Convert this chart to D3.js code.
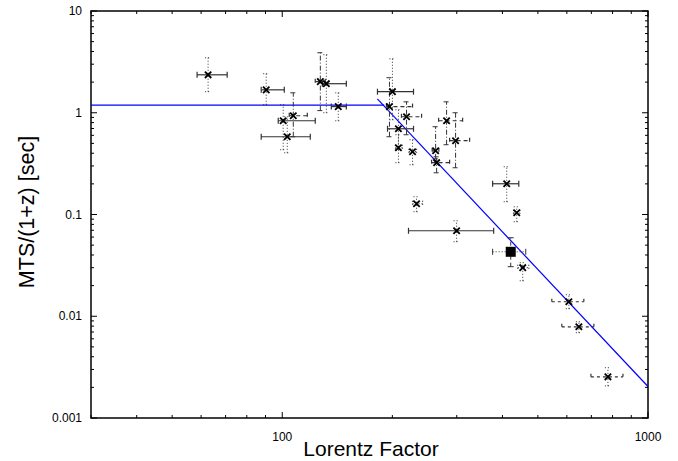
<!DOCTYPE html>
<html>
<head>
<meta charset="utf-8">
<script src="https://cdn.jsdelivr.net/npm/d3@7"></script>
<style>
  body { margin: 0; background: #fff; }
  text { font-family: "Liberation Sans", Arial, sans-serif; }
</style>
</head>
<body>
<div id="chart"></div>
<script>
// MTS vs Lorentz factor (log-log)

const margin = {top: 11, right: 30, bottom: 43, left: 91};
const width = 678 - margin.left - margin.right;
const height = 461 - margin.top - margin.bottom;

// data
const gamma    = [62.7, 90.4, 107.2, 100.6, 103.2, 127.1, 132.0, 142.3, 200.1, 196.4, 218.7, 207.8, 207.8, 227.1, 262.6, 264.3, 281.4, 297.8, 410.9, 437.6, 232.9, 299.7, 454.5, 607.6, 647.1, 777];
const gammaLo  = [58.5, 87.6, 104.5, 97.5, 87.6, 123.1, 128.7, 136.2, 182.1, 192.7, 211.8, 194.0, 204.0, 222.0, 257.0, 256.0, 267.6, 286.8, 376.0, 428.9, 227.1, 221.4, 440.4, 545.8, 581.2, 698.1];
const gammaHi  = [70.7, 101.3, 117.1, 123.1, 119.3, 131.1, 149.7, 149.7, 228.5, 227.1, 240.4, 228.5, 213.0, 232.9, 268.0, 286.8, 311.3, 325.3, 443.3, 446.4, 241.9, 378.5, 472.1, 667.7, 711.2, 854.2];
const mts      = [2.36, 1.68, 0.934, 0.834, 0.581, 2.02, 1.93, 1.15, 1.61, 1.15, 0.913, 0.696, 0.453, 0.414, 0.423, 0.323, 0.834, 0.531, 0.2005, 0.104, 0.1275, 0.0692, 0.030, 0.01388, 0.00788, 0.00254];
const mtsLo    = [1.61, 1.20, 0.581, 0.433, 0.404, 1.05, 1.0, 0.834, 0.853, 0.581, 0.608, 0.433, 0.323, 0.308, 0.352, 0.257, 0.485, 0.288, 0.1335, 0.0849, 0.1064, 0.054, 0.0223, 0.01185, 0.00689, 0.00207];
const mtsHi    = [3.47, 2.42, 1.57, 1.20, 0.913, 3.89, 3.72, 1.57, 3.39, 2.21, 1.28, 1.07, 0.608, 0.543, 0.729, 0.369, 1.28, 1.0, 0.2945, 0.119, 0.1494, 0.0868, 0.0336, 0.01627, 0.00883, 0.00312];
// 0: solid h / dotted v, 1: dashed h / dash-dot v, 2: dotted both, 3: dashed h / dotted v
const grp      = [0, 0, 1, 0, 0, 1, 0, 0, 0, 1, 1, 0, 2, 2, 1, 1, 1, 1, 0, 2, 2, 0, 2, 3, 3, 3];

// special point (filled square)
const sqGamma = [421.4], sqGammaLo = [376], sqGammaHi = [463.2];
const sqMts = [0.043], sqMtsLo = [0.0307], sqMtsHi = [0.0591];

// broken power-law fit
const fitFlat = 1.19, fitFlatEnd = 190;
const fitStart = 182, fitEnd = 1000, fitNorm = 0.00204, fitIndex = -3.82;

const xTickLabels = ["100", "1000"];
const yTickLabels = ["0.001", "0.01", "0.1", "1", "10"];

let svg = d3.select("#chart")
    .append("svg")
    .attr("width", width + margin.left + margin.right)
    .attr("height", height + margin.top + margin.bottom);

svg.append("rect")
    .attr("width", "100%")
    .attr("height", "100%")
    .attr("fill", "#ffffff");

let g = svg.append("g")
    .attr("transform", `translate(${margin.left},${margin.top})`);

let x = d3.scaleLog().domain([30, 1000]).range([0, width]);
let y = d3.scaleLog().domain([0.001, 10]).range([height, 0]);

//ticks on all four sides, pointing in
const isMajor = v => Math.abs(Math.log10(v) - Math.round(Math.log10(v))) < 1e-6;
let xt = x.ticks().filter(v => v >= 30 && v <= 1000);
let yt = y.ticks();

let ticks = g.append("g").attr("stroke", "#000").attr("stroke-width", 1);
xt.forEach(v => {
    let len = isMajor(v) ? 6 : 3;
    ticks.append("line").attr("x1", x(v)).attr("x2", x(v)).attr("y1", height).attr("y2", height - len);
    ticks.append("line").attr("x1", x(v)).attr("x2", x(v)).attr("y1", 0).attr("y2", len);
});
yt.forEach(v => {
    let len = isMajor(v) ? 6 : 3;
    ticks.append("line").attr("y1", y(v)).attr("y2", y(v)).attr("x1", 0).attr("x2", len);
    ticks.append("line").attr("y1", y(v)).attr("y2", y(v)).attr("x1", width).attr("x2", width - len);
});

//frame
g.append("rect")
    .attr("width", width)
    .attr("height", height)
    .attr("fill", "none")
    .attr("stroke", "#000")
    .attr("stroke-width", 1.5);

//tick labels
g.append("g").selectAll("text")
    .data(xTickLabels)
    .enter()
    .append("text")
    .attr("x", d => x(+d))
    .attr("y", height + 23)
    .attr("text-anchor", "middle")
    .style("font-size", "12px")
    .text(d => d);

g.append("g").selectAll("text")
    .data(yTickLabels)
    .enter()
    .append("text")
    .attr("x", -9)
    .attr("y", d => y(+d) + 4)
    .attr("text-anchor", "end")
    .style("font-size", "12px")
    .text(d => d);

//axis titles
svg.append("text")
    .attr("x", 371)
    .attr("y", 456)
    .attr("text-anchor", "middle")
    .style("font-size", "21px")
    .text("Lorentz Factor");

svg.append("text")
    .attr("transform", "rotate(-90)")
    .attr("x", -212)
    .attr("y", 34)
    .attr("text-anchor", "middle")
    .style("font-size", "21.5px")
    .text("MTS/(1+z) [sec]");

//fit line
let fitPts = [fitStart, fitEnd].map(v => [v, fitNorm * Math.pow(v / 1000, fitIndex)]);
g.append("line")
    .attr("x1", x(30)).attr("x2", x(fitFlatEnd))
    .attr("y1", y(fitFlat)).attr("y2", y(fitFlat))
    .attr("stroke", "#0000ff").attr("stroke-width", 1.2);
g.append("path")
    .attr("d", d3.line().x(d => x(d[0])).y(d => y(d[1]))(fitPts))
    .attr("fill", "none")
    .attr("stroke", "#0000ff")
    .attr("stroke-width", 1.2);

//error bars
const hDash = ["", "4,3", "1,2", "3,3"];
const vDash = ["1,2", "5,2,1,2", "1,2", "1,2"];
const cap = 3;

let pts = gamma.map((v, i) => ({
    gx: v, gl: gammaLo[i], gh: gammaHi[i],
    m: mts[i], ml: mtsLo[i], mh: mtsHi[i], s: grp[i]
}));

let eb = g.append("g").attr("fill", "none");
pts.forEach(d => {
    let cx = x(d.gx), cy = y(d.m);
    let hb = eb.append("g").attr("stroke", "#333").attr("stroke-width", 1.2)
        .attr("stroke-dasharray", hDash[d.s] || null);
    hb.append("line").attr("x1", x(d.gl)).attr("x2", x(d.gh)).attr("y1", cy).attr("y2", cy);
    hb.append("line").attr("x1", x(d.gl)).attr("x2", x(d.gl)).attr("y1", cy - cap).attr("y2", cy + cap).attr("stroke-dasharray", null);
    hb.append("line").attr("x1", x(d.gh)).attr("x2", x(d.gh)).attr("y1", cy - cap).attr("y2", cy + cap).attr("stroke-dasharray", null);

    let vb = eb.append("g").attr("stroke", "#333").attr("stroke-width", 1)
        .attr("stroke-dasharray", vDash[d.s]);
    vb.append("line").attr("x1", cx).attr("x2", cx).attr("y1", y(d.ml)).attr("y2", y(d.mh));
    vb.append("line").attr("x1", cx - cap).attr("x2", cx + cap).attr("y1", y(d.ml)).attr("y2", y(d.ml));
    vb.append("line").attr("x1", cx - cap).attr("x2", cx + cap).attr("y1", y(d.mh)).attr("y2", y(d.mh));
});

//markers
let mk = 3.2;
g.append("g")
    .selectAll("path")
    .data(pts)
    .enter()
    .append("path")
    .attr("d", d => {
        let cx = x(d.gx), cy = y(d.m);
        return `M${cx - mk},${cy - mk}L${cx + mk},${cy + mk}M${cx - mk},${cy + mk}L${cx + mk},${cy - mk}`;
    })
    .attr("stroke", "#000")
    .attr("stroke-width", 1.8);

//filled square with its own bars
sqGamma.forEach((v, i) => {
    let cx = x(v), cy = y(sqMts[i]);
    let sb = g.append("g").attr("stroke", "#333").attr("stroke-width", 1);
    sb.append("line").attr("x1", x(sqGammaLo[i])).attr("x2", x(sqGammaHi[i])).attr("y1", cy).attr("y2", cy).attr("stroke-dasharray", "1,2");
    sb.append("line").attr("x1", x(sqGammaLo[i])).attr("x2", x(sqGammaLo[i])).attr("y1", cy - cap).attr("y2", cy + cap);
    sb.append("line").attr("x1", x(sqGammaHi[i])).attr("x2", x(sqGammaHi[i])).attr("y1", cy - cap).attr("y2", cy + cap);
    sb.append("line").attr("x1", cx).attr("x2", cx).attr("y1", y(sqMtsLo[i])).attr("y2", y(sqMtsHi[i])).attr("stroke-dasharray", "4,3");
    sb.append("line").attr("x1", cx - cap).attr("x2", cx + cap).attr("y1", y(sqMtsLo[i])).attr("y2", y(sqMtsLo[i]));
    sb.append("line").attr("x1", cx - cap).attr("x2", cx + cap).attr("y1", y(sqMtsHi[i])).attr("y2", y(sqMtsHi[i]));
    g.append("rect")
        .attr("x", cx - 5).attr("y", cy - 5)
        .attr("width", 10).attr("height", 10)
        .attr("fill", "#000");
});
</script>
</body>
</html>
